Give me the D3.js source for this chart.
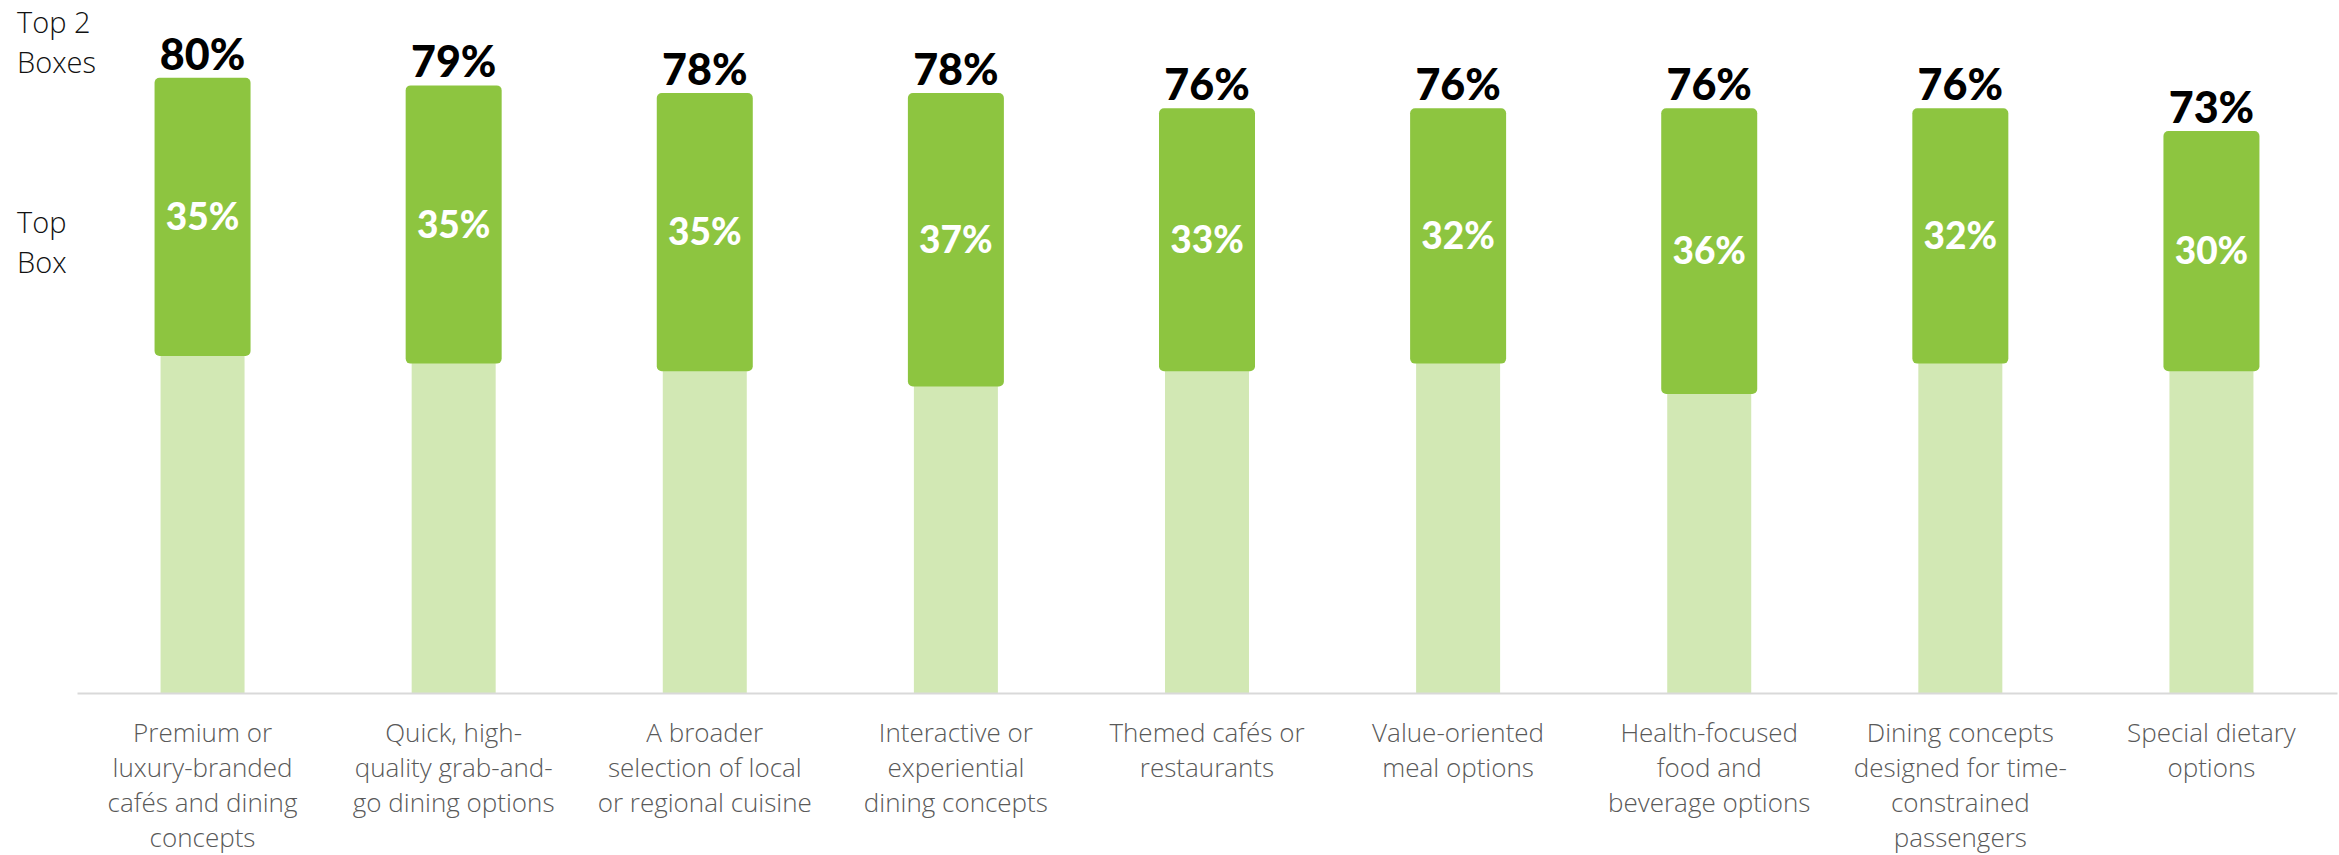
<!DOCTYPE html>
<html>
<head>
<meta charset="utf-8">
<script src="https://cdn.jsdelivr.net/npm/d3@7"></script>
<style>
  html, body { margin: 0; padding: 0; background: #ffffff; }
  svg { display: block; }
</style>
</head>
<body>
<svg id="chart" width="2339" height="855"></svg>
<script>
// Dining concepts: share rating in the Top 2 Boxes and in the Top Box
const categories = [
  "Premium or luxury-branded cafés and dining concepts",
  "Quick, high-quality grab-and-go dining options",
  "A broader selection of local or regional cuisine",
  "Interactive or experiential dining concepts",
  "Themed cafés or restaurants",
  "Value-oriented meal options",
  "Health-focused food and beverage options",
  "Dining concepts designed for time-constrained passengers",
  "Special dietary options"
];

const categoryLines = [
  ["Premium or", "luxury-branded", "cafés and dining", "concepts"],
  ["Quick, high-", "quality grab-and-", "go dining options"],
  ["A broader", "selection of local", "or regional cuisine"],
  ["Interactive or", "experiential", "dining concepts"],
  ["Themed cafés or", "restaurants"],
  ["Value-oriented", "meal options"],
  ["Health-focused", "food and", "beverage options"],
  ["Dining concepts", "designed for time-", "constrained", "passengers"],
  ["Special dietary", "options"]
];

const top2Boxes = [80, 79, 78, 78, 76, 76, 76, 76, 73];
const topBox    = [35, 35, 35, 37, 33, 32, 36, 32, 30];

const rowLabels = [
  { lines: ["Top 2", "Boxes"] },
  { lines: ["Top", "Box"] }
];

const data = categories.map((c, i) => ({
  category: c,
  lines: categoryLines[i],
  t2b: top2Boxes[i],
  tb: topBox[i]
}));

const svg = d3.select("#chart");

const baseline = 693;
const x = d3.scaleBand()
  .domain(categories)
  .range([77, 2337])
  .paddingInner(0)
  .paddingOuter(0);

const y = d3.scaleLinear()
  .domain([0, 100])
  .range([baseline, baseline - 761.8]);

const lightW = 84;
const darkW = 96;
const capPad = 5.8;

const colDark = "#8dc540";
const colLight = "#d2e8b4";

const g = svg.append("g");

// Light bars: full Top 2 Boxes height
g.selectAll("rect.t2b")
  .data(data)
  .join("rect")
  .attr("class", "t2b")
  .attr("x", d => x(d.category) + x.bandwidth() / 2 - lightW / 2)
  .attr("width", lightW)
  .attr("y", d => y(d.t2b))
  .attr("height", d => baseline - y(d.t2b))
  .attr("fill", colLight);

// Dark caps: Top Box share, hung from the top of each bar
g.selectAll("rect.tb")
  .data(data)
  .join("rect")
  .attr("class", "tb")
  .attr("x", d => x(d.category) + x.bandwidth() / 2 - darkW / 2)
  .attr("width", darkW)
  .attr("y", d => y(d.t2b) - capPad)
  .attr("height", d => y(d.t2b - d.tb) - y(d.t2b) + capPad * 2)
  .attr("rx", 5)
  .attr("ry", 5)
  .attr("fill", colDark);

// Baseline axis
const axis = d3.axisBottom(x).tickSize(0).tickFormat("");
const axisG = svg.append("g")
  .attr("transform", `translate(0,${baseline})`)
  .call(axis);
axisG.select(".domain")
  .attr("stroke", "#d9d9d9")
  .attr("stroke-width", 2);

// Top 2 Boxes value labels
g.selectAll("text.t2b-label")
  .data(data)
  .join("text")
  .attr("class", "t2b-label")
  .attr("x", d => x(d.category) + x.bandwidth() / 2)
  .attr("y", d => y(d.t2b) - capPad - 8)
  .attr("text-anchor", "middle")
  .attr("font-family", "Lato, 'Open Sans', sans-serif")
  .attr("font-weight", 900)
  .attr("font-size", 43)
  .attr("fill", "#000000")
  .text(d => d.t2b + "%");

// Top Box value labels, centred in the dark cap
g.selectAll("text.tb-label")
  .data(data)
  .join("text")
  .attr("class", "tb-label")
  .attr("x", d => x(d.category) + x.bandwidth() / 2)
  .attr("y", d => (y(d.t2b) + y(d.t2b - d.tb)) / 2)
  .attr("dy", "0.36em")
  .attr("text-anchor", "middle")
  .attr("font-family", "Lato, 'Open Sans', sans-serif")
  .attr("font-weight", 900)
  .attr("font-size", 37)
  .attr("fill", "#ffffff")
  .text(d => d.tb + "%");

// Category labels under the axis
const catG = svg.append("g")
  .attr("font-family", "'Open Sans', Lato, sans-serif")
  .attr("font-weight", 300)
  .attr("font-size", 26)
  .attr("fill", "#595959")
  .attr("text-anchor", "middle");

catG.selectAll("text")
  .data(data)
  .join("text")
  .attr("x", d => x(d.category) + x.bandwidth() / 2)
  .attr("y", 742)
  .each(function(d) {
    const t = d3.select(this);
    d.lines.forEach((line, j) => {
      t.append("tspan")
        .attr("x", x(d.category) + x.bandwidth() / 2)
        .attr("y", 742 + j * 35)
        .text(line);
    });
  });

// Row labels on the left
const rowG = svg.append("g")
  .attr("font-family", "'Open Sans', Lato, sans-serif")
  .attr("font-weight", 300)
  .attr("font-size", 29)
  .attr("fill", "#111111");

const rowBaselines = [33, 233];
rowG.selectAll("text")
  .data(rowLabels)
  .join("text")
  .attr("x", 17)
  .attr("y", (d, i) => rowBaselines[i])
  .each(function(d, i) {
    const t = d3.select(this);
    d.lines.forEach((line, j) => {
      t.append("tspan")
        .attr("x", 17)
        .attr("y", rowBaselines[i] + j * 39.5)
        .text(line);
    });
  });
</script>
</body>
</html>
